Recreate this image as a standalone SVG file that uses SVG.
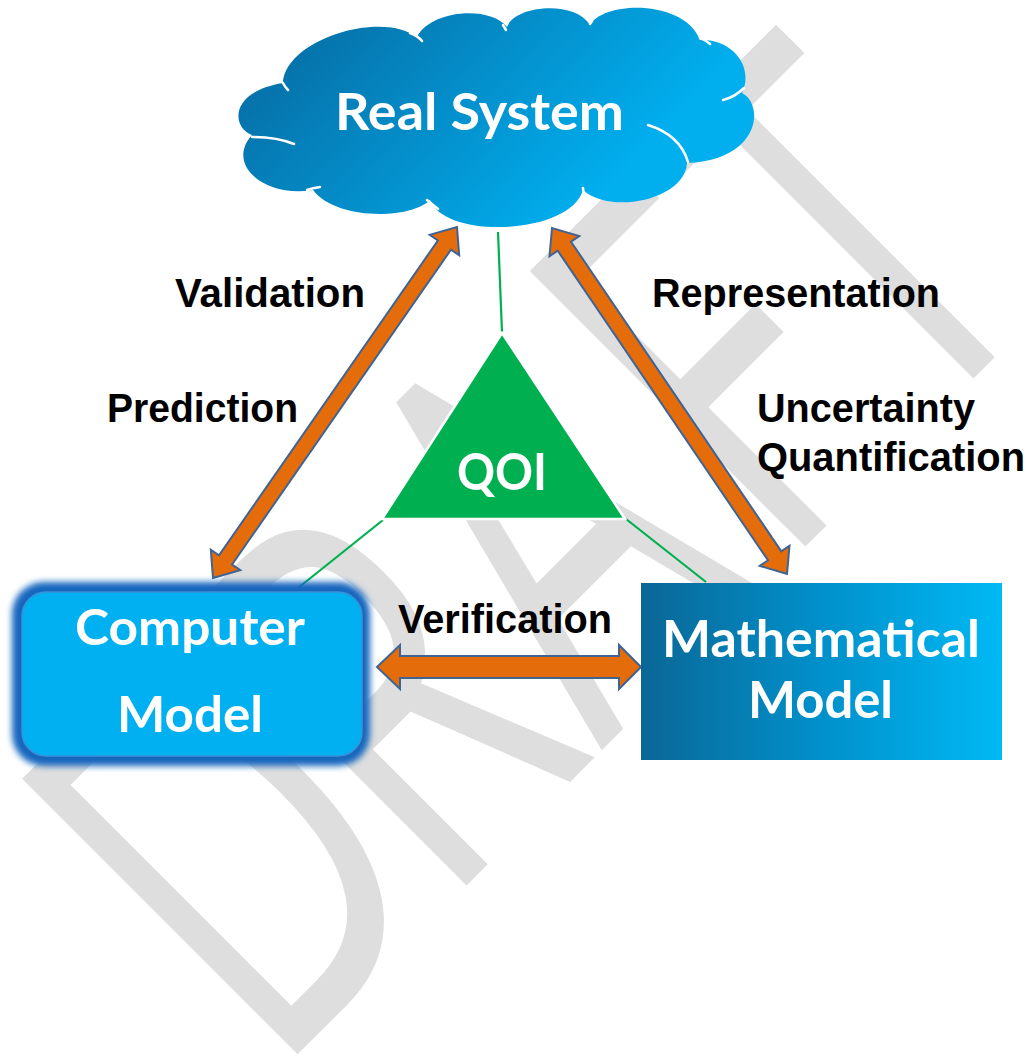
<svg xmlns="http://www.w3.org/2000/svg" width="1031" height="1063" viewBox="0 0 1031 1063">
  <defs>
    <linearGradient id="cloudFill" gradientUnits="userSpaceOnUse" x1="330" y1="10" x2="560" y2="235">
      <stop offset="0" stop-color="#0672aa"/>
      <stop offset="1" stop-color="#01aeee"/>
    </linearGradient>
    <linearGradient id="mathFill" x1="0" y1="0" x2="1" y2="0">
      <stop offset="0" stop-color="#0a6796"/>
      <stop offset="0.5" stop-color="#0190cb"/>
      <stop offset="1" stop-color="#00b9f4"/>
    </linearGradient>
    <filter id="glow" x="-10%" y="-10%" width="120%" height="120%">
      <feGaussianBlur stdDeviation="3"/>
    </filter>
    <style>
      .mark { font-family: "Open Sans", "Liberation Sans", sans-serif; font-size: 546px; fill: #dedede; }
      .label { font-family: "Liberation Sans", Arial, sans-serif; font-weight: bold; font-size: 40px; fill: #000; }
      .title { font-family: "Lato", "Open Sans", "Liberation Sans", sans-serif; font-weight: bold; fill: #fff; }
      .arrow { fill: #e46c0a; stroke: #3f6494; stroke-width: 2; stroke-linejoin: miter; }
      .link { stroke: #00b050; stroke-width: 2.2; fill: none; }
      .inner { fill: none; stroke: #fff; stroke-width: 2.5; stroke-linecap: round; }
    </style>
  </defs>

  <rect width="1031" height="1063" fill="#fff"/>

  <!-- watermark -->
  <text class="mark" transform="translate(290.5,1061.5) rotate(-45) scale(0.66,1)" x="-38 324 667 1050 1336" y="0">DRAFT</text>

  <!-- connectors -->
  <g id="connectors">
    <line class="link" x1="498" y1="232" x2="502" y2="332"/>
    <line class="link" x1="383" y1="520" x2="298" y2="588"/>
    <line class="link" x1="626" y1="519" x2="706" y2="582"/>
    <polygon class="arrow" points="213,578 240.3,570.2 232.1,564.5 451.0,249.6 459.2,255.3 457,227 429.7,234.8 437.9,240.5 219.0,555.4 210.8,549.7"/>
    <polygon class="arrow" points="787,574 789.5,545.7 781.3,551.3 571.0,241.7 579.3,236.1 552,228 549.5,256.3 557.7,250.7 768.0,560.3 759.8,565.9"/>
    <polygon class="arrow" points="377,667 400,645 400,656 619,656 619,645 641,667 619,689 619,678 400,678 400,689"/>
  </g>

  <!-- Real System -->
  <g id="real-system">
    <path fill="url(#cloudFill)" d="M252,135 C232,128 228,92 283,83 C285,40 380,10 417,37 C430,10 490,5 507,27 C515,5 575,0 590,25 C605,0 685,0 700,40 C730,38 755,65 742,93 C765,105 760,160 687,163 C685,200 610,215 583,190 C570,235 445,240 430,200 C410,220 335,220 313,190 C265,198 225,165 252,135 Z"/>
    <path class="inner" d="M410,33 q8,3 12,8 M283,83 q2,4 5,7 M252,137 q25,0 42,7 M307,190 q6,-2 13,-3 M427,200 q5,4 11,9 M583,188 q1,6 1,12 M648,125 Q680,135 688,162 M723,100 Q735,97 744,88 M503,25 l3,5 M590,24 l2,-3 M700,38 q6,2 10,6"/>
    <text class="title" x="335" y="130" font-size="51" textLength="289" lengthAdjust="spacingAndGlyphs">Real System</text>
  </g>

  <!-- QOI -->
  <g id="qoi">
    <polygon points="502,333 382,519 625,519" fill="#00b050" stroke="#fff" stroke-width="2.5"/>
    <text class="title" x="457" y="490" font-size="51" textLength="90" lengthAdjust="spacingAndGlyphs">QOI</text>
  </g>

  <!-- Computer Model -->
  <g id="computer-model">
    <rect x="12" y="582" width="358" height="184" rx="32" fill="#1266bd" filter="url(#glow)"/>
    <rect x="22" y="592" width="340" height="164" rx="24" fill="#00b0f0" stroke="#3d8fd4" stroke-width="1.5"/>
    <text class="title" x="75" y="645" font-size="50" textLength="230" lengthAdjust="spacingAndGlyphs">Computer</text>
    <text class="title" x="117" y="732" font-size="50" textLength="146" lengthAdjust="spacingAndGlyphs">Model</text>
  </g>

  <!-- Mathematical Model -->
  <g id="mathematical-model">
    <rect x="641" y="583" width="361" height="177" fill="url(#mathFill)"/>
    <text class="title" x="662" y="657" font-size="51" textLength="318" lengthAdjust="spacingAndGlyphs">Mathematical</text>
    <text class="title" x="748" y="718" font-size="51" textLength="145" lengthAdjust="spacingAndGlyphs">Model</text>
  </g>

  <!-- relation labels -->
  <g id="labels">
    <text class="label" x="175" y="307" textLength="190" lengthAdjust="spacingAndGlyphs">Validation</text>
    <text class="label" x="107" y="422" textLength="191" lengthAdjust="spacingAndGlyphs">Prediction</text>
    <text class="label" x="652" y="307" textLength="288" lengthAdjust="spacingAndGlyphs">Representation</text>
    <text class="label" x="757" y="422" textLength="218" lengthAdjust="spacingAndGlyphs">Uncertainty</text>
    <text class="label" x="757" y="471" textLength="268" lengthAdjust="spacingAndGlyphs">Quantification</text>
    <text class="label" x="398" y="633" textLength="214" lengthAdjust="spacingAndGlyphs">Verification</text>
  </g>
</svg>
